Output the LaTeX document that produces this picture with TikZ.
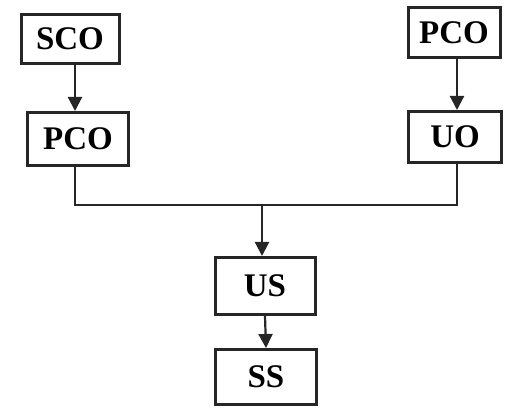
\documentclass[tikz,border=0pt]{standalone}
\usepackage{fontspec}
\setmainfont{Liberation Serif}
\usetikzlibrary{arrows.meta,calc}
\begin{document}
\begin{tikzpicture}[x=1pt,y=1pt,
  box/.style={draw=black!85, line width=3pt, fill=white, inner sep=0pt, font=\fontsize{33}{33}\selectfont\bfseries},
  conn/.style={draw=black!85, line width=2.2pt},
  arr/.style={conn, -{Triangle[width=14pt,length=14pt]}}]
\useasboundingbox (0,0) rectangle (505,409);
\node[box, minimum width=98pt, minimum height=49pt] (sco) at (70,370) {SCO};
\node[box, minimum width=101pt, minimum height=53pt] (lpco) at (78,270) {PCO};
\node[box, minimum width=92pt, minimum height=50pt] (rpco) at (454,376) {PCO};
\node[box, minimum width=93pt, minimum height=51pt] (uo) at (455,272) {UO};
\node[box, minimum width=100pt, minimum height=57pt] (us) at (265,123) {US};
\node[box, minimum width=101pt, minimum height=55pt] (ss) at (266,32) {SS};
\coordinate (j) at (262,204);
\draw[arr] ($(sco.south)+(5,0)$) -- ($(lpco.north)+(-3,0)$);
\draw[arr] ($(rpco.south)+(3,0)$) -- ($(uo.north)+(2,0)$);
\draw[conn] ($(lpco.south)+(-3,0)$) |- (j);
\draw[conn] ($(uo.south)+(2,0)$) |- (j);
\draw[arr] (j) -- (j |- us.north);
\draw[arr] (us.south) -- (ss.north);
\end{tikzpicture}
\end{document}
